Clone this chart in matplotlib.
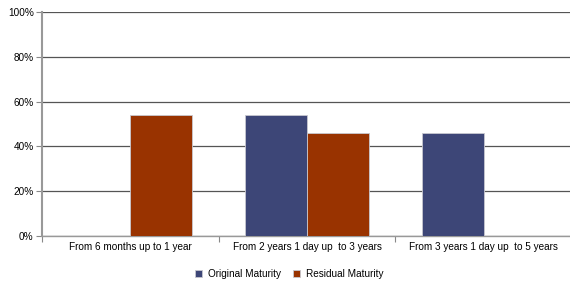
import numpy as np
import matplotlib
matplotlib.use("Agg")
import matplotlib.pyplot as plt
from matplotlib.ticker import PercentFormatter

plt.rcParams["font.family"] = ["Liberation Sans", "DejaVu Sans"]

categories = ["From 6 months up to 1 year",
              "From 2 years 1 day up  to 3 years",
              "From 3 years 1 day up  to 5 years"]
original = [0.0, 54.0, 46.0]
residual = [54.0, 46.0, 0.0]

BLUE = "#3d4677"
RUST = "#993300"

fig = plt.figure(figsize=(5.7, 2.85), dpi=100)
ax = fig.add_axes([0.0737, 0.172, 0.93, 0.786])

x = np.arange(len(categories))
w = 0.35
ax.bar(x - w / 2, original, w, color=BLUE, edgecolor="#c8c8d0", linewidth=0.6,
       label="Original Maturity", zorder=3)
ax.bar(x + w / 2, residual, w, color=RUST, edgecolor="#c8c8d0", linewidth=0.6,
       label="Residual Maturity", zorder=3)

ax.set_xlim(-0.5, 2.5)
ax.set_ylim(0, 100)
ax.set_yticks(np.arange(0, 101, 20))
ax.yaxis.set_major_formatter(PercentFormatter(decimals=0))
ax.grid(axis="y", color="#555555", linewidth=0.9, zorder=0)

ax.set_xticks([-0.5, 0.5, 1.5, 2.5])
ax.set_xticklabels([])
ax.set_xticks(x, minor=True)
ax.set_xticklabels(categories, minor=True)
ax.tick_params(axis="x", which="minor", length=0, labelsize=7.2, pad=4)
ax.tick_params(axis="x", which="major", length=4, color="#888888")
ax.tick_params(axis="y", length=4, color="#888888", labelsize=7.2, pad=2)

for s in ["top", "right"]:
    ax.spines[s].set_visible(False)
ax.spines["left"].set_color("#999999")
ax.spines["left"].set_linewidth(1.5)
ax.spines["bottom"].set_color("#999999")
ax.spines["bottom"].set_linewidth(1.0)

fig.legend(loc="center", bbox_to_anchor=(0.508, 0.04), ncol=2, frameon=False,
           fontsize=7.2, handlelength=0.7, handleheight=0.7, columnspacing=1.2,
           handletextpad=0.6)

fig.savefig("out.png", dpi=100)
